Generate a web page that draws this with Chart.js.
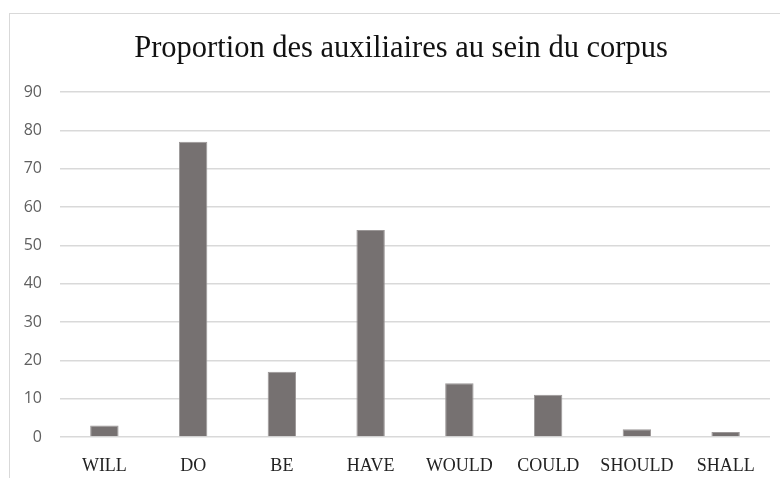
<!DOCTYPE html>
<html>
<head>
<meta charset="utf-8">
<script src="https://cdn.jsdelivr.net/npm/chart.js@4/dist/chart.umd.min.js"></script>
<style>
  html, body { margin: 0; padding: 0; background: #fff; overflow: hidden; }
  #frame {
    position: absolute; left: 9px; top: 13px; width: 800px; height: 500px;
    border: 1px solid #d9d9d9; box-sizing: border-box;
  }
  #title {
    position: absolute; left: 0; top: 29px; width: 802px; text-align: center;
    font: 30.5px "Liberation Serif", "Times New Roman", serif; color: #111; line-height: 36px;
  }
  #wrap { position: absolute; left: 0; top: 0; width: 780px; height: 478px; }
</style>
</head>
<body>
<div id="frame"></div>
<div id="wrap"><canvas id="chart"></canvas></div>
<div id="title">Proportion des auxiliaires au sein du corpus</div>
<script>
// Data
const categories = ['WILL', 'DO', 'BE', 'HAVE', 'WOULD', 'COULD', 'SHOULD', 'SHALL'];
const proportions = [3, 77, 17, 54, 14, 11, 2, 1.3];
const yTicks = [0, 10, 20, 30, 40, 50, 60, 70, 80, 90];

const ctx = document.getElementById('chart');
new Chart(ctx, {
    type: 'bar',
    data: {
        labels: categories,
        datasets: [{
            data: proportions,
            backgroundColor: '#767171',
            borderColor: '#9b9797',
            borderWidth: 1,
            categoryPercentage: 1,
            barPercentage: 0.32
        }]
    },
    options: {
        responsive: true,
        maintainAspectRatio: false,
        animation: false,
        layout: { padding: { left: 0, right: 10, top: 92, bottom: 0 } },
        plugins: {
            legend: { display: false },
            tooltip: { enabled: false }
        },
        scales: {
            x: {
                grid: { display: false },
                border: { display: false },
                ticks: {
                    color: '#222',
                    font: { family: '"Liberation Serif", "Times New Roman", serif', size: 18 },
                    padding: 10,
                    maxRotation: 0
                },
                afterFit: s => { s.height = 41; }
            },
            y: {
                min: 0,
                max: 90,
                afterBuildTicks: s => { s.ticks = yTicks.map(v => ({ value: v })); },
                grid: { color: '#d9d9d9', lineWidth: 1.5, drawTicks: false },
                border: { display: false },
                ticks: {
                    color: '#606060',
                    font: { family: '"Open Sans", "Liberation Sans", sans-serif', size: 16 },
                    padding: 18
                },
                afterFit: s => { s.width = 60; }
            }
        }
    }
});
</script>
</body>
</html>
